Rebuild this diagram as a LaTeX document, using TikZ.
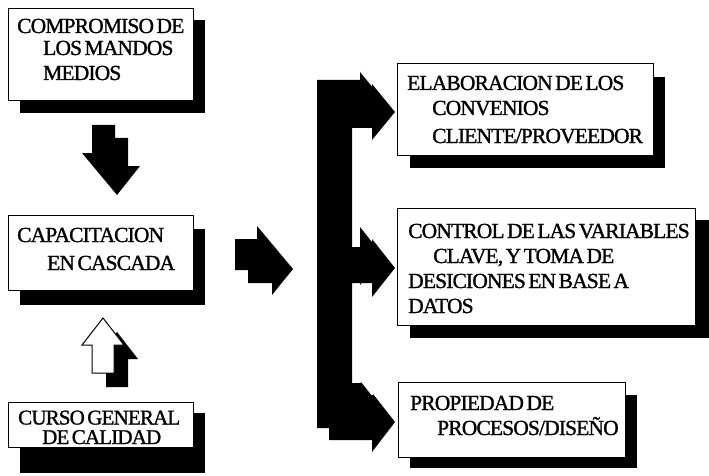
\documentclass[tikz,border=0pt]{standalone}
\usepackage{fontspec}
\newfontfamily\boxfont{Liberation Serif}[LetterSpace=-4,WordSpace=0.55,FakeBold=1.2]
\tikzset{
  panel/.style={draw=black, line width=1pt, fill=white, inner sep=0pt, anchor=north west},
  txt/.style={anchor=base west, inner sep=0pt, font=\boxfont\fontsize{21.5}{24}\selectfont},
  smalltxt/.style={txt, font=\boxfont\fontsize{21}{22}\selectfont},
  % bracket with three arrowheads feeding the right-hand panels
  forkblk/.pic={\fill (317,80) -- (360,80) -- (360,72) -- (383,100) -- (360,128) -- (360,116) -- (340,116)
      -- (340,247) -- (360,247) -- (360,227) -- (383,256) -- (360,285) -- (360,271) -- (340,271)
      -- (340,383) -- (361,383) -- (361,382) -- (383,410) -- (360,440) -- (360,428) -- (317,428) -- cycle;},
  % hollow arrow pointing up, origin at the tip
  upblk/.pic={\path[pic actions] (0,0) -- (21,27) -- (11,27) -- (11,55) -- (-11,55) -- (-11,27) -- (-21,27) -- cycle;},
}
\begin{document}
\begin{tikzpicture}[x=1pt,y=-1pt]
\useasboundingbox (0,0) rectangle (709,476);

% drop shadows of the panels
\fill (20,20) rectangle (205,113);
\fill (20,229) rectangle (205,305);
\fill (20,413) rectangle (205,473);
\fill (410,77) rectangle (665,168);
\fill (410,220) rectangle (709,338);
\fill (410,395) rectangle (637,468);

% left column panels
\node[panel, minimum width=185, minimum height=92] (mandos) at (8,8) {};
\node[panel, minimum width=185, minimum height=75] (capac) at (8,215) {};
\node[panel, minimum width=185, minimum height=45] (curso) at (8,402) {};

\node[txt] (mandos1) at (17,33) {COMPROMISO DE};
\node[txt] (mandos2) at (43,55) {LOS MANDOS};
\node[txt] (mandos3) at (43,80) {MEDIOS};

\node[txt] (capac1) at (17,242) {CAPACITACION};
\node[txt] (capac2) at (47,270) {EN CASCADA};

\node[smalltxt] (curso1) at (18,424.5) {CURSO GENERAL};
\node[smalltxt] (curso2) at (42,444) {DE CALIDAD};

% right column panels
\node[panel, minimum width=256, minimum height=92] (conv) at (397,63) {};
\node[panel, minimum width=298, minimum height=117] (ctrl) at (397,208) {};
\node[panel, minimum width=227, minimum height=75] (prop) at (398,382) {};

\node[txt] (conv1) at (407,90) {ELABORACION DE LOS};
\node[txt] (conv2) at (432,115) {CONVENIOS};
\node[txt] (conv3) at (432,143) {CLIENTE/PROVEEDOR};

\node[txt] (ctrl1) at (408,238) {CONTROL DE LAS VARIABLES};
\node[txt] (ctrl2) at (433,263) {CLAVE, Y TOMA DE};
\node[txt] (ctrl3) at (408,288) {DESICIONES EN BASE A};
\node[txt] (ctrl4) at (408,313) {DATOS};

\node[txt] (prop1) at (410,410) {PROPIEDAD DE};
\node[txt] (prop2) at (437,435) {PROCESOS/DISEÑO};

% solid arrow down, with its shadow step on the right
\fill (92,125) -- (115,125) -- (115,138) -- (128,138) -- (128,166) -- (140,166)
  -- (117,195) -- (82,153) -- (92,153) -- cycle;

% hollow arrow up over its black shadow
\pic[fill=black] at (117,332) {upblk};
\pic[fill=white, draw=black, line width=1pt] at (103,318) {upblk};

% solid arrow right, with its shadow step below
\fill (235,239) -- (257,239) -- (257,226) -- (293,269) -- (272,295) -- (272,283)
  -- (248,283) -- (248,270) -- (235,270) -- cycle;

% branching bracket and its shadow
\pic at (0,0) {forkblk};
\pic at (12,12) {forkblk};
\end{tikzpicture}
\end{document}
